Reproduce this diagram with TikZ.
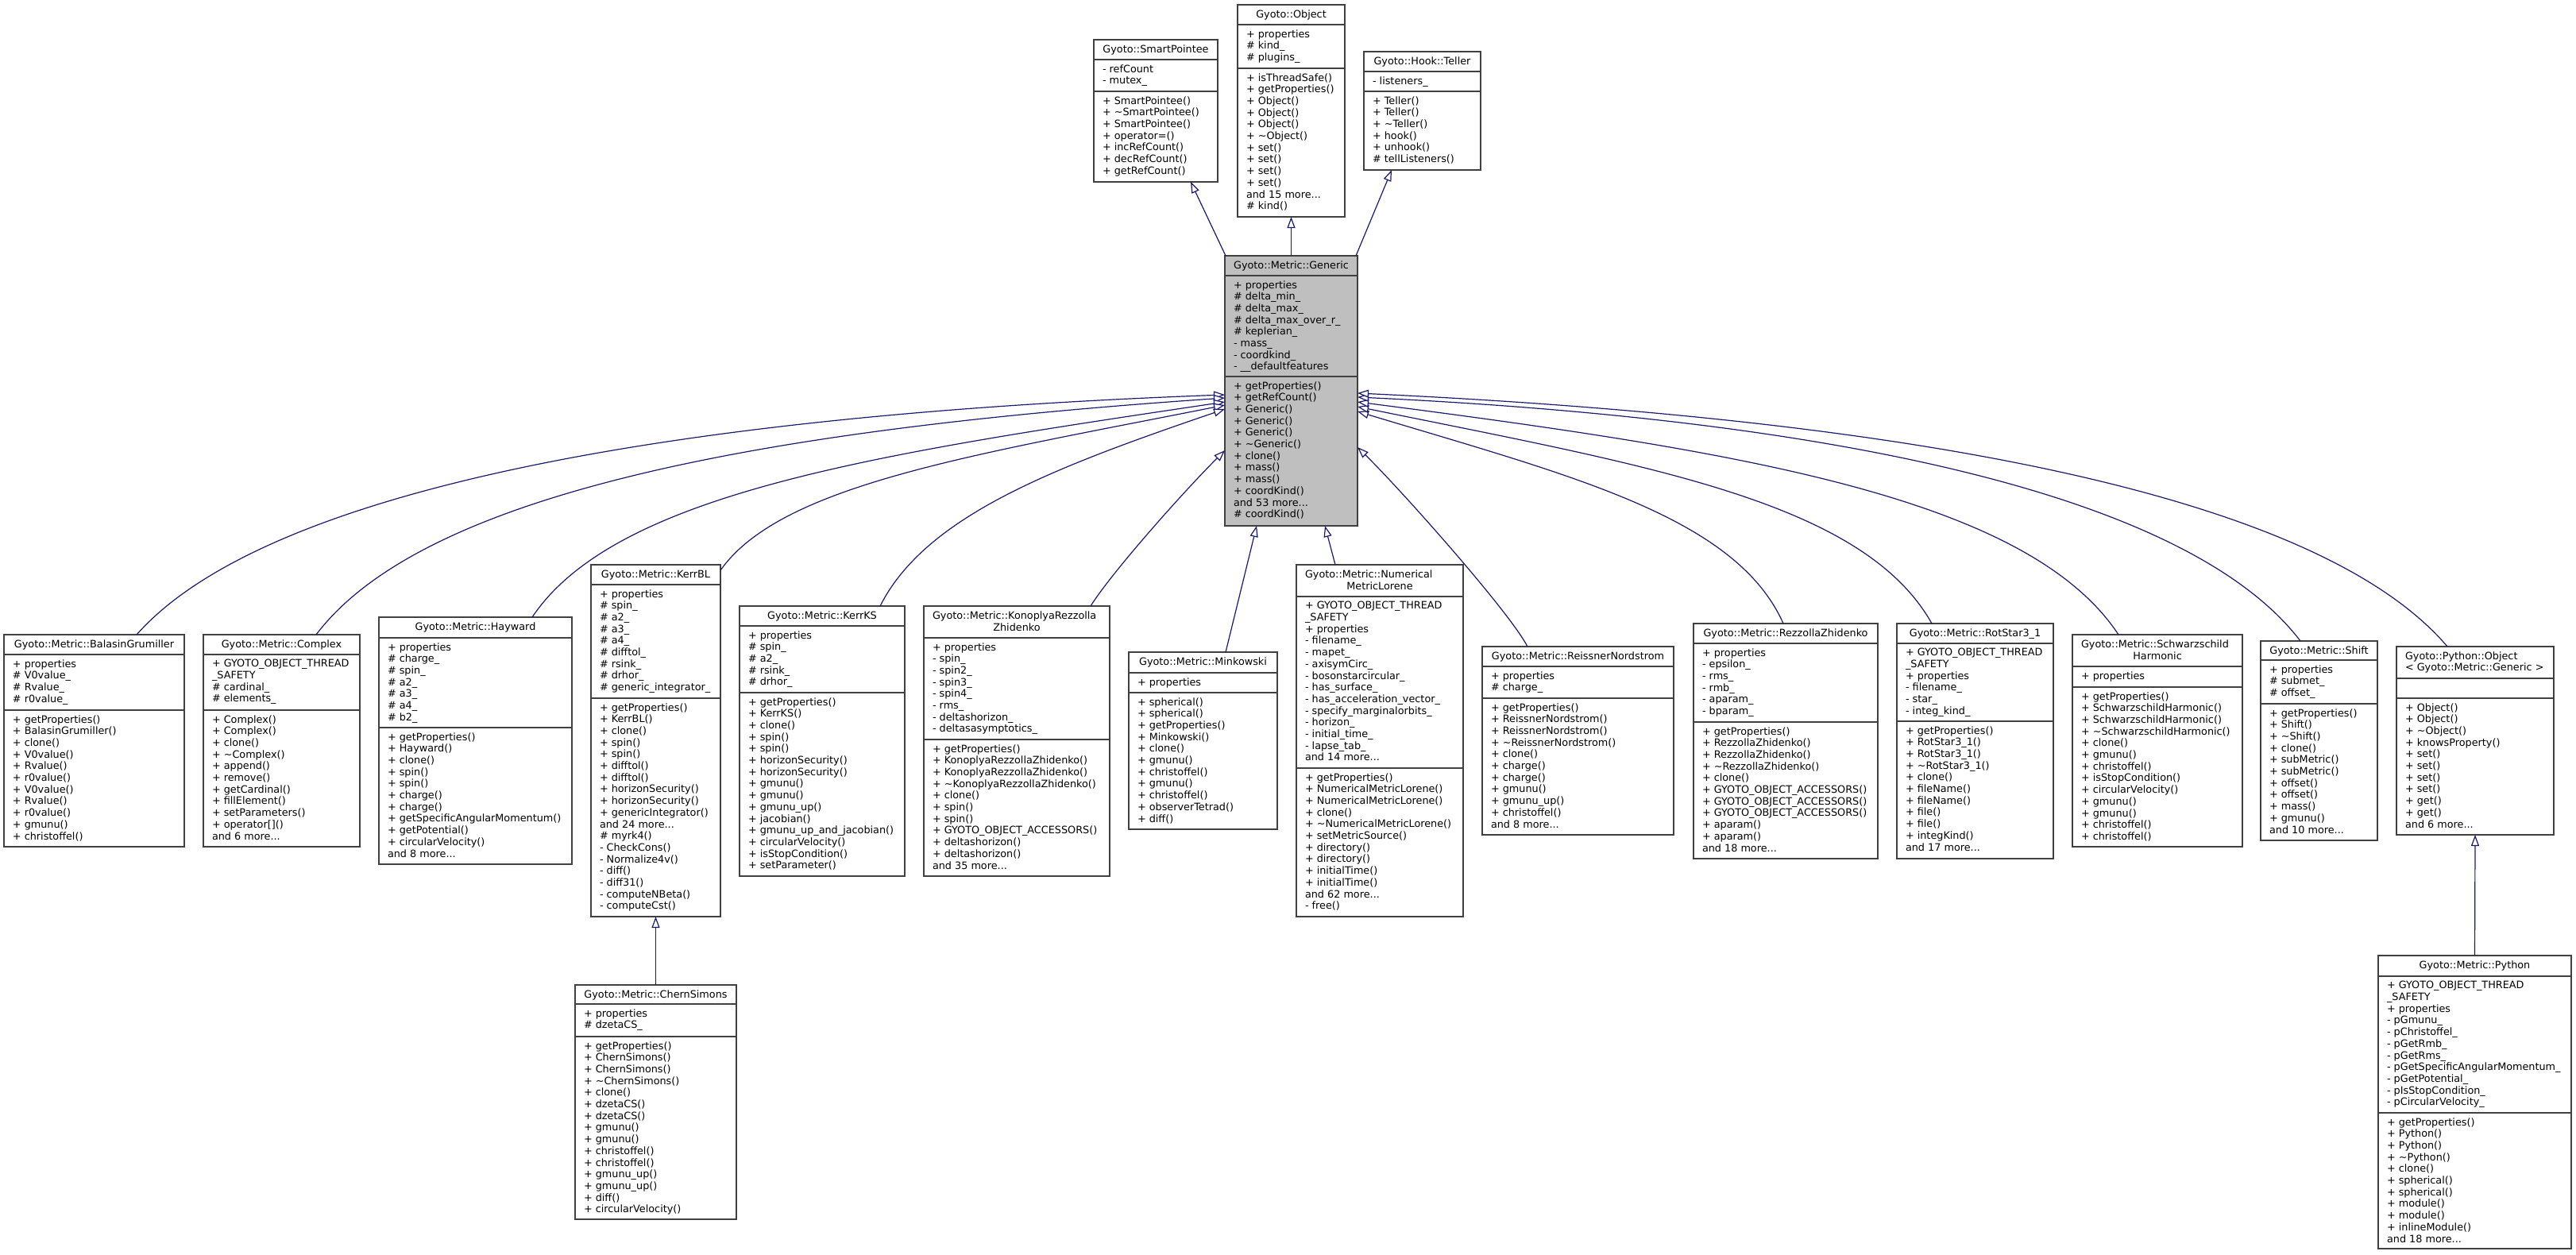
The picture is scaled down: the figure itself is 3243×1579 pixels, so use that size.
\documentclass[tikz,border=0pt]{standalone}
\usepackage{fontspec}
\setmainfont{DejaVu Sans}
\usetikzlibrary{arrows.meta,calc}
\definecolor{edgeblue}{RGB}{25,25,112}
\definecolor{boxline}{RGB}{64,64,64}
\definecolor{genfill}{RGB}{191,191,191}
\tikzset{
  cbox/.style={draw=boxline, line width=1.3pt, fill=white, rectangle, inner sep=0pt, outer sep=0pt},
  cline/.style={draw=boxline, line width=1.3pt},
  txt/.style={inner sep=0pt, outer sep=0pt, align=left, font=\fontsize{12.8}{14.7}\selectfont, execute at begin node=\strut},
  edge/.style={draw=edgeblue, line width=1.2pt, -{Triangle[length=14pt,width=10pt,fill=white]}},
}
% box: [style]{name}{left}{top}{right}{bottom}{header divider}{attribute divider}
\newcommand\ubox[8][]{%
  \node[cbox,#1, minimum width={(#5-#3)*1pt}, minimum height={(#6-#4)*1pt}, anchor=north west] (#2) at (#3,#4) {};
  \draw[cline] (#3,#7) -- (#5,#7);
  \draw[cline] (#3,#8) -- (#5,#8);
  \def\curL{#3}\def\curT{#4}\def\curR{#5}\def\curH{#7}\def\curA{#8}\def\curN{#2}%
}
% centred one-line header
\newcommand\utext[3]{%
  \node[txt, anchor=north] (\curN-h) at ({(\curL+\curR)/2},\curT+6.3) {#1};
  \node[txt, anchor=north west] (\curN-a) at (\curL+11,\curH+6.3) {#2};
  \node[txt, anchor=north west] (\curN-m) at (\curL+11,\curA+6.3) {#3};
}
% two-line header: first line left, second centred
\newcommand\utextB[4]{%
  \node[txt, anchor=north west] (\curN-h) at (\curL+11,\curT+6.3) {#1};
  \node[txt, anchor=north] (\curN-h2) at ({(\curL+\curR)/2},\curT+21) {#2};
  \node[txt, anchor=north west] (\curN-a) at (\curL+11,\curH+6.3) {#3};
  \node[txt, anchor=north west] (\curN-m) at (\curL+11,\curA+6.3) {#4};
}
% left-aligned header
\newcommand\utextC[3]{%
  \node[txt, anchor=north west] (\curN-h) at (\curL+11,\curT+6.3) {#1};
  \node[txt, anchor=north west] (\curN-a) at (\curL+11,\curH+6.3) {#2};
  \node[txt, anchor=north west] (\curN-m) at (\curL+11,\curA+6.3) {#3};
}
\newcommand\tld{\textasciitilde}
\begin{document}
\begin{tikzpicture}[x=1pt,y=-1pt]
\fill[white] (0,0) rectangle (3243,1579);
\useasboundingbox (0,0) rectangle (3243,1579);

% ---------- top row ----------
\ubox{smartpointee}{1377}{50}{1533}{229}{75}{115}
\utext{Gyoto::SmartPointee}{- refCount\\- mutex\_}{+ SmartPointee()\\+ \tld SmartPointee()\\+ SmartPointee()\\+ operator=()\\+ incRefCount()\\+ decRefCount()\\+ getRefCount()}

\ubox{object}{1558}{6}{1693}{273}{31}{86}
\utext{Gyoto::Object}{+ properties\\\# kind\_\\\# plugins\_}{+ isThreadSafe()\\+ getProperties()\\+ Object()\\+ Object()\\+ Object()\\+ \tld Object()\\+ set()\\+ set()\\+ set()\\+ set()\\and 15 more...\\\# kind()}

\ubox{teller}{1717}{65}{1864}{214}{90}{115}
\utext{Gyoto::Hook::Teller}{- listeners\_}{+ Teller()\\+ Teller()\\+ \tld Teller()\\+ hook()\\+ unhook()\\\# tellListeners()}

% ---------- Generic ----------
\ubox[fill=genfill]{generic}{1542}{322}{1709}{662}{347}{474}
\utext{Gyoto::Metric::Generic}{+ properties\\\# delta\_min\_\\\# delta\_max\_\\\# delta\_max\_over\_r\_\\\# keplerian\_\\- mass\_\\- coordkind\_\\- \_\_defaultfeatures}{+ getProperties()\\+ getRefCount()\\+ Generic()\\+ Generic()\\+ Generic()\\+ \tld Generic()\\+ clone()\\+ mass()\\+ mass()\\+ coordKind()\\and 53 more...\\\# coordKind()}

% ---------- children ----------
\ubox{balasin}{5}{799}{232}{1066}{824}{894}
\utext{Gyoto::Metric::BalasinGrumiller}{+ properties\\\# V0value\_\\\# Rvalue\_\\\# r0value\_}{+ getProperties()\\+ BalasinGrumiller()\\+ clone()\\+ V0value()\\+ Rvalue()\\+ r0value()\\+ V0value()\\+ Rvalue()\\+ r0value()\\+ gmunu()\\+ christoffel()}

\ubox{complex}{256}{799}{453}{1066}{824}{894}
\utext{Gyoto::Metric::Complex}{+ GYOTO\_OBJECT\_THREAD\\\_SAFETY\\\# cardinal\_\\\# elements\_}{+ Complex()\\+ Complex()\\+ clone()\\+ \tld Complex()\\+ append()\\+ remove()\\+ getCardinal()\\+ fillElement()\\+ setParameters()\\+ operator[]()\\and 6 more...}

\ubox{hayward}{477}{777}{720}{1088}{803}{916}
\utext{Gyoto::Metric::Hayward}{+ properties\\\# charge\_\\\# spin\_\\\# a2\_\\\# a3\_\\\# a4\_\\\# b2\_}{+ getProperties()\\+ Hayward()\\+ clone()\\+ spin()\\+ spin()\\+ charge()\\+ charge()\\+ getSpecificAngularMomentum()\\+ getPotential()\\+ circularVelocity()\\and 8 more...}

\ubox{kerrbl}{744}{711}{907}{1154}{736}{879}
\utext{Gyoto::Metric::KerrBL}{+ properties\\\# spin\_\\\# a2\_\\\# a3\_\\\# a4\_\\\# difftol\_\\\# rsink\_\\\# drhor\_\\\# generic\_integrator\_}{+ getProperties()\\+ KerrBL()\\+ clone()\\+ spin()\\+ spin()\\+ difftol()\\+ difftol()\\+ horizonSecurity()\\+ horizonSecurity()\\+ genericIntegrator()\\and 24 more...\\\# myrk4()\\- CheckCons()\\- Normalize4v()\\- diff()\\- diff31()\\- computeNBeta()\\- computeCst()}

\ubox{chernsimons}{724}{1240}{927}{1535}{1264}{1305}
\utext{Gyoto::Metric::ChernSimons}{+ properties\\\# dzetaCS\_}{+ getProperties()\\+ ChernSimons()\\+ ChernSimons()\\+ \tld ChernSimons()\\+ clone()\\+ dzetaCS()\\+ dzetaCS()\\+ gmunu()\\+ gmunu()\\+ christoffel()\\+ christoffel()\\+ gmunu\_up()\\+ gmunu\_up()\\+ diff()\\+ circularVelocity()}

\ubox{kerrks}{931}{763}{1139}{1103}{788}{872}
\utext{Gyoto::Metric::KerrKS}{+ properties\\\# spin\_\\\# a2\_\\\# rsink\_\\\# drhor\_}{+ getProperties()\\+ KerrKS()\\+ clone()\\+ spin()\\+ spin()\\+ horizonSecurity()\\+ horizonSecurity()\\+ gmunu()\\+ gmunu()\\+ gmunu\_up()\\+ jacobian()\\+ gmunu\_up\_and\_jacobian()\\+ circularVelocity()\\+ isStopCondition()\\+ setParameter()}

\ubox{konoplya}{1163}{763}{1397}{1103}{803}{931}
\utextB{Gyoto::Metric::KonoplyaRezzolla}{Zhidenko}{+ properties\\- spin\_\\- spin2\_\\- spin3\_\\- spin4\_\\- rms\_\\- deltashorizon\_\\- deltasasymptotics\_}{+ getProperties()\\+ KonoplyaRezzollaZhidenko()\\+ KonoplyaRezzollaZhidenko()\\+ \tld KonoplyaRezzollaZhidenko()\\+ clone()\\+ spin()\\+ spin()\\+ GYOTO\_OBJECT\_ACCESSORS()\\+ deltashorizon()\\+ deltashorizon()\\and 35 more...}

\ubox{minkowski}{1421}{821}{1608}{1044}{847}{872}
\utext{Gyoto::Metric::Minkowski}{+ properties}{+ spherical()\\+ spherical()\\+ getProperties()\\+ Minkowski()\\+ clone()\\+ gmunu()\\+ christoffel()\\+ gmunu()\\+ christoffel()\\+ observerTetrad()\\+ diff()}

\ubox{lorene}{1632}{711}{1842}{1154}{751}{967}
\utextB{Gyoto::Metric::Numerical}{MetricLorene}{+ GYOTO\_OBJECT\_THREAD\\\_SAFETY\\+ properties\\- filename\_\\- mapet\_\\- axisymCirc\_\\- bosonstarcircular\_\\- has\_surface\_\\- has\_acceleration\_vector\_\\- specify\_marginalorbits\_\\- horizon\_\\- initial\_time\_\\- lapse\_tab\_\\and 14 more...}{+ getProperties()\\+ NumericalMetricLorene()\\+ NumericalMetricLorene()\\+ clone()\\+ \tld NumericalMetricLorene()\\+ setMetricSource()\\+ directory()\\+ directory()\\+ initialTime()\\+ initialTime()\\and 62 more...\\- free()}

\ubox{reissner}{1866}{814}{2107}{1051}{839}{879}
\utext{Gyoto::Metric::ReissnerNordstrom}{+ properties\\\# charge\_}{+ getProperties()\\+ ReissnerNordstrom()\\+ ReissnerNordstrom()\\+ \tld ReissnerNordstrom()\\+ clone()\\+ charge()\\+ charge()\\+ gmunu()\\+ gmunu\_up()\\+ christoffel()\\and 8 more...}

\ubox{rezzolla}{2132}{785}{2364}{1081}{810}{909}
\utext{Gyoto::Metric::RezzollaZhidenko}{+ properties\\- epsilon\_\\- rms\_\\- rmb\_\\- aparam\_\\- bparam\_}{+ getProperties()\\+ RezzollaZhidenko()\\+ RezzollaZhidenko()\\+ \tld RezzollaZhidenko()\\+ clone()\\+ GYOTO\_OBJECT\_ACCESSORS()\\+ GYOTO\_OBJECT\_ACCESSORS()\\+ GYOTO\_OBJECT\_ACCESSORS()\\+ aparam()\\+ aparam()\\and 18 more...}

\ubox{rotstar}{2388}{785}{2585}{1081}{810}{908}
\utext{Gyoto::Metric::RotStar3\_1}{+ GYOTO\_OBJECT\_THREAD\\\_SAFETY\\+ properties\\- filename\_\\- star\_\\- integ\_kind\_}{+ getProperties()\\+ RotStar3\_1()\\+ RotStar3\_1()\\+ \tld RotStar3\_1()\\+ clone()\\+ fileName()\\+ fileName()\\+ file()\\+ file()\\+ integKind()\\and 17 more...}

\ubox{schwarz}{2609}{799}{2823}{1066}{839}{865}
\utextB{Gyoto::Metric::Schwarzschild}{Harmonic}{+ properties}{+ getProperties()\\+ SchwarzschildHarmonic()\\+ SchwarzschildHarmonic()\\+ \tld SchwarzschildHarmonic()\\+ clone()\\+ gmunu()\\+ christoffel()\\+ isStopCondition()\\+ circularVelocity()\\+ gmunu()\\+ gmunu()\\+ christoffel()\\+ christoffel()}

\ubox{shift}{2846}{807}{2993}{1058}{831}{886}
\utext{Gyoto::Metric::Shift}{+ properties\\\# submet\_\\\# offset\_}{+ getProperties()\\+ Shift()\\+ \tld Shift()\\+ clone()\\+ subMetric()\\+ subMetric()\\+ offset()\\+ offset()\\+ mass()\\+ gmunu()\\and 10 more...}

\ubox{pyobject}{3017}{814}{3215}{1051}{854}{879}
\utextC{Gyoto::Python::Object\\< Gyoto::Metric::Generic >}{}{+ Object()\\+ Object()\\+ \tld Object()\\+ knowsProperty()\\+ set()\\+ set()\\+ set()\\+ set()\\+ get()\\+ get()\\and 6 more...}

\ubox{python}{2994}{1203}{3237}{1572}{1229}{1401}
\utext{Gyoto::Metric::Python}{+ GYOTO\_OBJECT\_THREAD\\\_SAFETY\\+ properties\\- pGmunu\_\\- pChristoffel\_\\- pGetRmb\_\\- pGetRms\_\\- pGetSpecificAngularMomentum\_\\- pGetPotential\_\\- pIsStopCondition\_\\- pCircularVelocity\_}{+ getProperties()\\+ Python()\\+ Python()\\+ \tld Python()\\+ clone()\\+ spherical()\\+ spherical()\\+ module()\\+ module()\\+ inlineModule()\\and 18 more...}

% ---------- inheritance edges ----------
\draw[edge] ($(generic.north west)+(1,0)$) -- ($(smartpointee.south west)+(122,0)$);
\draw[edge] (generic.north) -- (object.south);
\draw[edge] ($(generic.north east)+(-2,0)$) -- ($(teller.south west)+(35,0)$);

\draw[edge] ($(balasin.north west)+(167,0)$) .. controls (336,614) and (857,522) .. ($(generic.north west)+(0,175)$);
\draw[edge] ($(complex.north west)+(142,0)$) .. controls (535,618) and (970,540) .. ($(generic.north west)+(0,179)$);
\draw[edge] ($(hayward.north west)+(193,0)$) .. controls (775,620) and (1106,571) .. ($(generic.north west)+(0,184)$);
\draw[edge] ($(kerrbl.north east)+(0,7)$) .. controls (983,610) and (1225,573) .. ($(generic.north west)+(0,188)$);
\draw[edge] ($(kerrks.north west)+(177,0)$) .. controls (1165,650) and (1325,589) .. ($(generic.north west)+(0,193)$);
\draw[edge] ($(konoplya.north west)+(210,0)$) .. controls (1400,720) and (1490,619) .. ($(generic.north west)+(0,245)$);

\draw[edge] ($(minkowski.north west)+(122,0)$) -- ($(generic.south west)+(40,0)$);
\draw[edge] ($(lorene.north west)+(49,0)$) -- ($(generic.south west)+(126,0)$);

\draw[edge] ($(reissner.north west)+(57,0)$) .. controls (1900,770) and (1765,618) .. ($(generic.north east)+(0,241)$);
\draw[edge] ($(rezzolla.north west)+(113,0)$) .. controls (2185,650) and (1977,599) .. ($(generic.north east)+(0,196)$);
\draw[edge] ($(rotstar.north west)+(44,0)$) .. controls (2345,630) and (2071,586) .. ($(generic.north east)+(0,190)$);
\draw[edge] ($(schwarz.north west)+(58,0)$) .. controls (2552,625) and (2188,568) .. ($(generic.north east)+(0,184)$);
\draw[edge] ($(shift.north west)+(50,0)$) .. controls (2754,621) and (2303,528) .. ($(generic.north east)+(0,178)$);
\draw[edge] ($(pyobject.north west)+(64,0)$) .. controls (2916,620) and (2395,527) .. ($(generic.north east)+(0,173)$);

\draw[edge] (chernsimons.north) -- (kerrbl.south);
\draw[edge] (python.north) -- (pyobject.south);
\end{tikzpicture}
\end{document}
